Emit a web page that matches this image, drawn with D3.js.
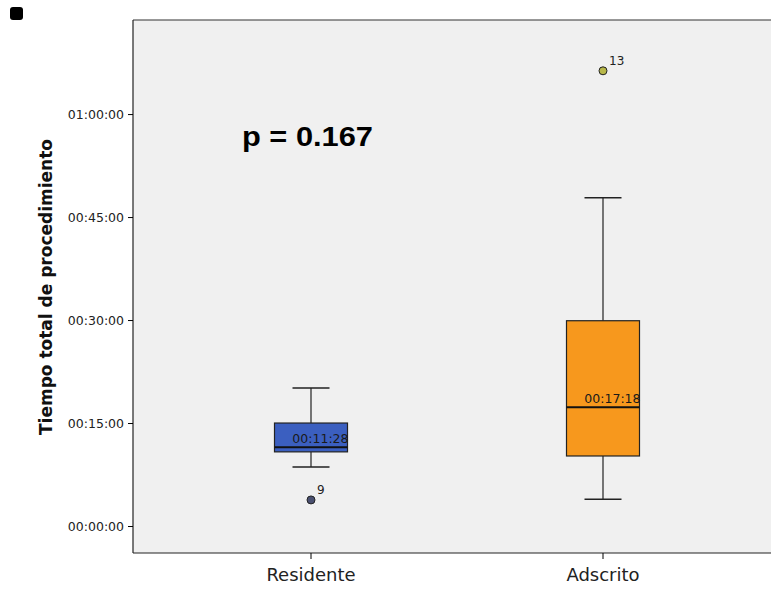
<!DOCTYPE html>
<html>
<head>
<meta charset="utf-8">
<script src="https://cdn.jsdelivr.net/npm/d3@7"></script>
<style>
  body { margin: 0; background: #fff; }
  svg { display: block; }
</style>
</head>
<body>
<div id="chart"></div>
<script>
// values in minutes
var groups = ["Residente", "Adscrito"];
var whiskerLow = [8.6, 3.9];
var q1 = [10.8, 10.2];
var medians = [11.467, 17.3];
var q3 = [15.0, 29.9];
var whiskerHigh = [20.1, 47.8];
var medianLabels = ["00:11:28", "00:17:18"];
var outlierValues = [3.8, 66.3];
var outlierIds = ["9", "13"];
var tickMinutes = [0, 15, 30, 45, 60];

var boxColors = ["#3b5fc0", "#f7981d"];
var outlierColors = ["#4a5070", "#b8b84a"];

var W = 771, H = 590;
var plot = { left: 133, top: 20, right: 771, bottom: 553 };

var svg = d3.select("#chart").append("svg").attr("width", W).attr("height", H);

var x = d3.scaleBand().domain(groups).range([165, 749]);
var y = d3.scaleLinear().domain([-3.93, 73.7]).range([plot.bottom, plot.top]);

function fmt(m) {
    var h = Math.floor(m / 60), mm = Math.floor(m % 60), s = Math.round((m * 60) % 60);
    return d3.format("02")(h) + ":" + d3.format("02")(mm) + ":" + d3.format("02")(s);
}

// marker at top-left
svg.append("rect").attr("x", 10).attr("y", 7).attr("width", 13).attr("height", 13).attr("rx", 3).attr("fill", "#000");

// plot background
svg.append("rect")
    .attr("x", plot.left).attr("y", plot.top)
    .attr("width", plot.right - plot.left).attr("height", plot.bottom - plot.top)
    .attr("fill", "#f0f0f0");

svg.append("line").attr("x1", plot.left).attr("x2", plot.right).attr("y1", plot.top).attr("y2", plot.top)
    .attr("stroke", "#333").attr("stroke-width", 1.2);

// axes
var yAxis = svg.append("g")
    .attr("transform", "translate(" + plot.left + ",0)")
    .call(d3.axisLeft(y).tickValues(tickMinutes).tickFormat(fmt).tickSize(5).tickPadding(4));
yAxis.select(".domain").attr("d", "M0," + plot.top + "V" + plot.bottom).attr("stroke", "#222").attr("stroke-width", 1.2);
yAxis.selectAll("text").attr("font-family", "DejaVu Sans, sans-serif").attr("font-size", "12.5px").attr("fill", "#222");

var xAxis = svg.append("g")
    .attr("transform", "translate(0," + plot.bottom + ")")
    .call(d3.axisBottom(x).tickSize(6).tickPadding(9));
xAxis.select(".domain").attr("d", "M" + plot.left + ",0H" + plot.right).attr("stroke", "#222").attr("stroke-width", 1.2);
xAxis.selectAll("text").attr("font-family", "DejaVu Sans, sans-serif").attr("font-size", "18px").attr("fill", "#222");

// y title
svg.append("text")
    .attr("transform", "translate(52,287) rotate(-90)")
    .attr("text-anchor", "middle")
    .attr("font-family", "DejaVu Sans, sans-serif")
    .attr("font-weight", "bold")
    .attr("font-size", "17px")
    .attr("fill", "#111")
    .text("Tiempo total de procedimiento");

// p value
svg.append("text")
    .attr("x", 242).attr("y", 146)
    .attr("font-family", "Liberation Sans, Arial, sans-serif")
    .attr("font-weight", "bold")
    .attr("font-size", "27px")
    .attr("textLength", 131)
    .attr("lengthAdjust", "spacingAndGlyphs")
    .attr("fill", "#000")
    .text("p = 0.167");

var boxW = 73, capW = 37;

groups.forEach(function (g, i) {
    var cx = x(g) + x.bandwidth() / 2;
    var gg = svg.append("g");
    // whiskers
    gg.append("line").attr("x1", cx).attr("x2", cx).attr("y1", y(whiskerHigh[i])).attr("y2", y(q3[i]))
        .attr("stroke", "#222").attr("stroke-width", 1.2);
    gg.append("line").attr("x1", cx).attr("x2", cx).attr("y1", y(q1[i])).attr("y2", y(whiskerLow[i]))
        .attr("stroke", "#222").attr("stroke-width", 1.2);
    gg.append("line").attr("x1", cx - capW / 2).attr("x2", cx + capW / 2).attr("y1", y(whiskerHigh[i])).attr("y2", y(whiskerHigh[i]))
        .attr("stroke", "#222").attr("stroke-width", 1.5);
    gg.append("line").attr("x1", cx - capW / 2).attr("x2", cx + capW / 2).attr("y1", y(whiskerLow[i])).attr("y2", y(whiskerLow[i]))
        .attr("stroke", "#222").attr("stroke-width", 1.5);
    // box
    gg.append("rect")
        .attr("x", cx - boxW / 2).attr("y", y(q3[i]))
        .attr("width", boxW).attr("height", y(q1[i]) - y(q3[i]))
        .attr("fill", boxColors[i]).attr("stroke", "#222").attr("stroke-width", 1.2);
    // median
    gg.append("line").attr("x1", cx - boxW / 2).attr("x2", cx + boxW / 2).attr("y1", y(medians[i])).attr("y2", y(medians[i]))
        .attr("stroke", "#111").attr("stroke-width", 2);
    gg.append("text")
        .attr("x", cx + boxW / 2 + 1).attr("y", y(medians[i]) - 4)
        .attr("text-anchor", "end")
        .attr("font-family", "DejaVu Sans, sans-serif")
        .attr("font-size", "12.5px")
        .attr("fill", "#1a1a1a")
        .text(medianLabels[i]);
    // outlier
    gg.append("circle").attr("cx", cx).attr("cy", y(outlierValues[i])).attr("r", 4)
        .attr("fill", outlierColors[i]).attr("stroke", "#222").attr("stroke-width", 1);
    gg.append("text")
        .attr("x", cx + 6).attr("y", y(outlierValues[i]) - 6)
        .attr("font-family", "DejaVu Sans, sans-serif")
        .attr("font-size", "12px")
        .attr("fill", "#222")
        .text(outlierIds[i]);
});
</script>
</body>
</html>
